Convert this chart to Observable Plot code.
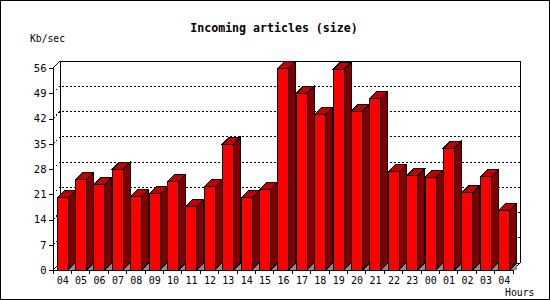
<!DOCTYPE html>
<html><head><meta charset="utf-8">
<script src="https://cdn.jsdelivr.net/npm/d3@7"></script>
<script src="https://cdn.jsdelivr.net/npm/@observablehq/plot@0.6"></script>
<style>html,body{margin:0;padding:0;background:#fff} svg{display:block}</style>
</head><body><div id="chart"></div>
<script>
const hours = ["04","05","06","07","08","09","10","11","12","13","14","15","16","17","18","19","20","21","22","23","00","01","02","03","04"];
const sizes = [20.0, 25.0, 23.6, 27.9, 20.4, 21.1, 24.5, 17.7, 23.1, 34.9, 20.0, 22.3, 55.9, 49.0, 43.2, 55.6, 44.0, 47.6, 27.2, 26.1, 25.7, 33.8, 21.4, 25.8, 16.5];
const yTicks = [0, 7, 14, 21, 28, 35, 42, 49, 56];
const title = "Incoming articles (size)";
const yLabel = "Kb/sec";
const xLabel = "Hours";

const rows = hours.map((h, i) => ({i, h, v: sizes[i]}));
const D = 7;          // 3D depth in pixels
const FRONT_L = 4;    // front face inset in band
const FRONT_W = 11;   // front face width

function walls(index, {x, y}, values, dims) {
  const g = d3.create("svg:g").attr("fill", "none").attr("stroke", "#000");
  const n = hours.length;
  const bw = x.bandwidth();
  const xl = x(0), xr = x(n - 1) + bw;
  const y0 = y(0), yT = y(yTicks[yTicks.length - 1]);
  for (const t of yTicks) {
    if (t === yTicks[0] || t === yTicks[yTicks.length - 1]) continue;
    const yy = y(t);
    g.append("path").attr("d", `M${xl},${yy}L${xl + D},${yy - D}H${xr + D}`).attr("stroke-dasharray", "2,2");
  }
  g.append("path").attr("d", `M${xl},${yT}L${xl + D},${yT - D}H${xr + D}V${y0 - D}L${xr},${y0}`);
  g.append("path").attr("d", `M${xl + D},${yT - D}V${y0 - D}H${xr + D}`);
  g.append("path").attr("d", `M${xl},${y0}L${xl + D},${y0 - D}`);
  g.append("path").attr("d", `M${xl},${yT}V${y0}H${xr}`);
  for (let i = 0; i <= n; i++) {
    const xx = i < n ? x(i) : xr;
    g.append("path").attr("d", `M${xx},${y0}v4`);
  }
  return g.node();
}

function faces(index, {x, y}) {
  const g = d3.create("svg:g").attr("stroke", "#000");
  const y0 = y(0);
  for (const r of rows) {
    const x0 = x(r.i) + FRONT_L, x1 = x0 + FRONT_W, yt = y(r.v);
    g.append("path").attr("d", `M${x1},${y0}L${x1 + D},${y0 - D}V${y0}Z`).attr("fill", "#8c8c8c").attr("stroke", "none");
    g.append("path").attr("d", `M${x1},${yt}L${x1 + D},${yt - D}V${y0 - D}L${x1},${y0}Z`).attr("fill", "#800000");
    g.append("path").attr("d", `M${x0},${yt}L${x0 + D},${yt - D}H${x1 + D}L${x1},${yt}Z`).attr("fill", "#c00000");
  }
  return g.node();
}

function texts(index, scales, values, dims) {
  const g = d3.create("svg:g").attr("fill", "#000").attr("font-family", "'DejaVu Sans Mono', monospace").attr("text-anchor", "start");
  g.append("text").attr("x", dims.width / 2 - 1).attr("y", 32).attr("text-anchor", "middle")
    .attr("font-weight", "bold").attr("font-size", 11.6).text(title);
  g.append("text").attr("x", 30).attr("y", 42).attr("font-size", 9.7).text(yLabel);
  g.append("text").attr("x", 505).attr("y", 296).attr("font-size", 9.8).text(xLabel);
  g.append("rect").attr("x", 0.5).attr("y", 0.5).attr("width", dims.width - 1).attr("height", dims.height - 1)
    .attr("fill", "none").attr("stroke", "#000");
  return g.node();
}

const chart = Plot.plot({
  width: 550, height: 300,
  marginLeft: 53, marginRight: 37, marginTop: 68, marginBottom: 30,
  style: {background: "#fff", fontFamily: "'DejaVu Sans Mono', monospace", shapeRendering: "crispEdges", color: "#000"},
  x: {type: "band", domain: d3.range(hours.length), paddingInner: 0, paddingOuter: 0, round: false},
  y: {domain: [0, 56]},
  marks: [
    walls,
    faces,
    Plot.barY(rows, {x: "i", y: "v", fill: "#ff0000", stroke: "#000", strokeWidth: 1, insetLeft: FRONT_L, insetRight: 18.4 - FRONT_L - FRONT_W}),
    Plot.axisY({ticks: yTicks, tickSize: 4, tickPadding: 3, fontSize: 10.5, label: null}),
    Plot.axisX({tickSize: 0, tickPadding: 6, tickFormat: i => hours[i], fontSize: 10, label: null}),
    texts
  ]
});
document.getElementById("chart").append(chart);
</script>
</body></html>
